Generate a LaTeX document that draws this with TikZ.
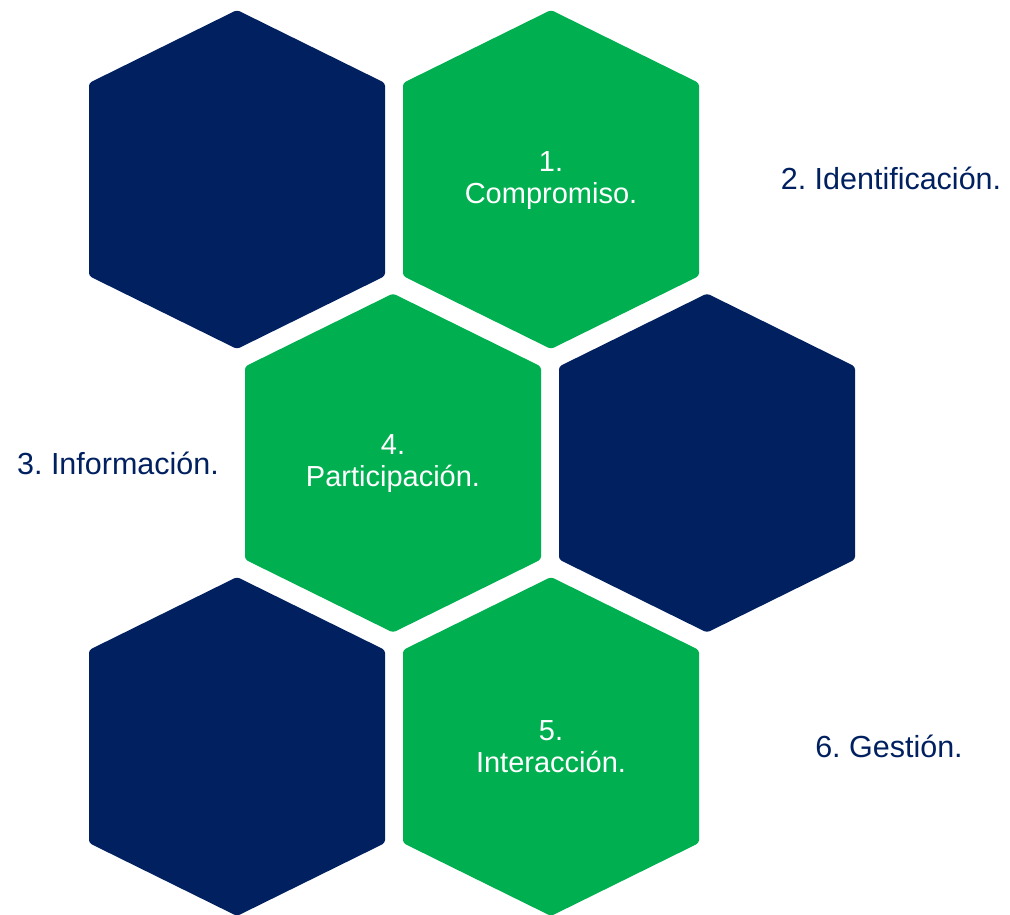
\documentclass[tikz,border=0pt]{standalone}
\usepackage{fontspec}
\setmainfont{Liberation Sans}
\definecolor{navy}{HTML}{002060}
\definecolor{leaf}{HTML}{00B050}
\frenchspacing
\begin{document}
\begin{tikzpicture}[x=1pt,y=-1pt,
  hexshape/.pic={\fill[rounded corners=3pt] (0,-169.5) -- (148,-96.5) -- (148,96.5) -- (0,169.5) -- (-148,96.5) -- (-148,-96.5) -- cycle;},
  intext/.style={text=white,align=center,font=\fontsize{29}{32}\selectfont,inner sep=0pt},
  outtext/.style={text=navy,font=\fontsize{30.5}{34}\selectfont,inner sep=0pt}]
\useasboundingbox (0,0) rectangle (1010,914);
\pic[navy] at (237,179.5) {hexshape};
\pic[leaf] at (551,179.5) {hexshape};
\pic[leaf] at (393,463) {hexshape};
\pic[navy] at (707,463) {hexshape};
\pic[navy] at (237,746.5) {hexshape};
\pic[leaf] at (551,746.5) {hexshape};
\node[intext] (t1) at (551,181) {1.\\Compromiso.};
\node[outtext] (t2) at (891,178) {2. Identificación.};
\node[outtext] (t3) at (118,463) {3. Información.};
\node[intext] (t4) at (393,464) {4.\\Participación.};
\node[intext] (t5) at (551,747) {5.\\Interacción.};
\node[outtext] (t6) at (889,746) {6. Gestión.};
\end{tikzpicture}
\end{document}
